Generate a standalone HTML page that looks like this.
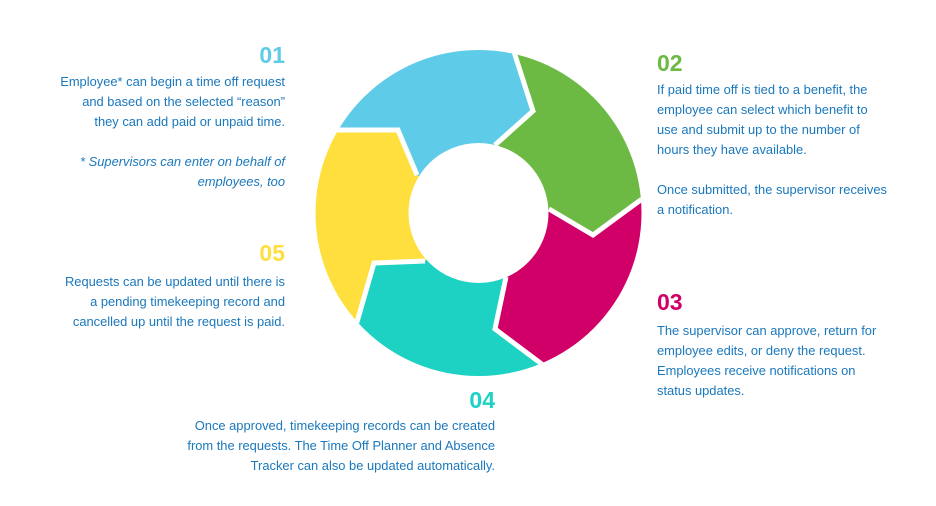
<!DOCTYPE html>
<html style="overflow:hidden"><head><meta charset="utf-8"><style>
html,body{margin:0;padding:0;}
body{width:936px;height:506px;background:#fff;position:relative;overflow:hidden;font-family:"Liberation Sans",sans-serif;}
svg{display:block;}
.t{position:absolute;color:#1a78bd;font-size:12.9px;line-height:20px;white-space:nowrap;}
.r{text-align:right;}
.n{position:absolute;font-weight:bold;font-size:23px;line-height:24px;}
i{font-style:italic;}
</style></head><body>
<svg width="936" height="506" style="position:absolute;left:0;top:0">
<defs><clipPath id="c"><circle cx="478.5" cy="213" r="163"/></clipPath></defs>
<g clip-path="url(#c)">
<polygon fill="#5ecbe8" points="478,213 417,175 398,130 338,130 50,-45 283,-247 590,-274 515,55 533,111 495,145"/>
<polygon fill="#6cb944" points="478,213 495,145 533,111 515,55 590,-274 855,-115 976,169 642,199 593,235 549,209"/>
<polygon fill="#d10068" points="478,213 549,209 593,235 642,199 976,169 907,471 673,673 543,365 495,329 506,277"/>
<polygon fill="#1dd1c3" points="478,213 506,277 495,329 543,365 673,673 374,702 107,548 357,322 374,263 425,261"/>
<polygon fill="#fedf3e" points="478,213 425,261 374,263 357,322 107,548 0,257 50,-45 338,130 398,130 417,175"/>
<g fill="none" stroke="#fff" stroke-width="5" stroke-linejoin="miter">
<polyline points="495,145 533,111 515,55 504,8"/>
<polyline points="549,209 593,235 642,199 660,197"/>
<polyline points="506,277 495,329 543,365 560,378"/>
<polyline points="425,261 374,263 357,322 350,340"/>
<polyline points="417,175 398,130 338,130 320,130"/>
</g>
</g>
<circle cx="478.5" cy="213" r="70" fill="#fff"/>
</svg>
<div class="n" style="right:651px;top:43px;color:#5ecbe8">01</div>
<div class="t r" style="right:651px;top:72px">Employee* can begin a time off request<br>and based on the selected “reason”<br>they can add paid or unpaid time.<br><br><i>* Supervisors can enter on behalf of<br>employees, too</i></div>
<div class="n" style="right:651px;top:241px;color:#fedf3e">05</div>
<div class="t r" style="right:651px;top:272px">Requests can be updated until there is<br>a pending timekeeping record and<br>cancelled up until the request is paid.</div>
<div class="n" style="left:657px;top:51px;color:#6cb944">02</div>
<div class="t" style="left:657px;top:80px">If paid time off is tied to a benefit, the<br>employee can select which benefit to<br>use and submit up to the number of<br>hours they have available.<br><br>Once submitted, the supervisor receives<br>a notification.</div>
<div class="n" style="left:657px;top:290px;color:#d10068">03</div>
<div class="t" style="left:657px;top:321px">The supervisor can approve, return for<br>employee edits, or deny the request.<br>Employees receive notifications on<br>status updates.</div>
<div class="n" style="right:441px;top:388px;color:#1dd1c3">04</div>
<div class="t r" style="right:441px;top:416px">Once approved, timekeeping records can be created<br>from the requests. The Time Off Planner and Absence<br>Tracker can also be updated automatically.</div>
</body></html>
